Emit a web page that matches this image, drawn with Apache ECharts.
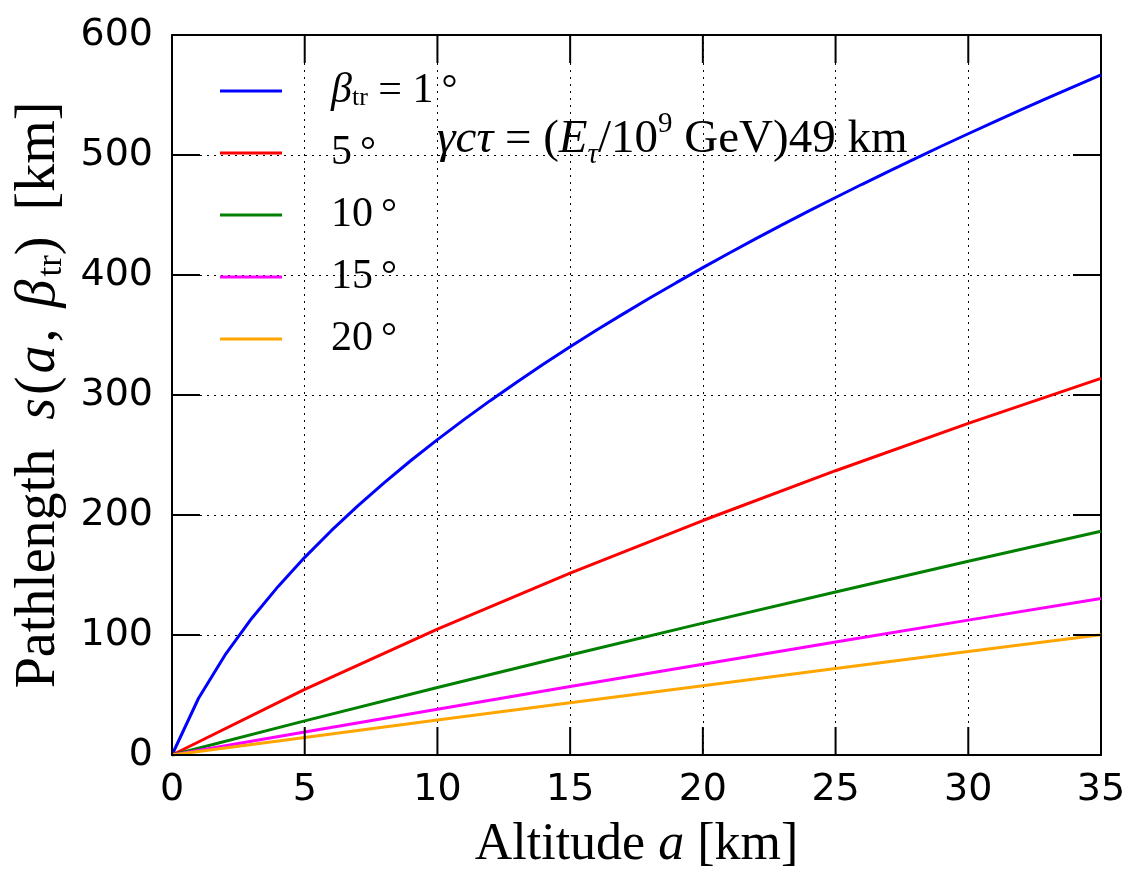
<!DOCTYPE html>
<html>
<head>
<meta charset="utf-8">
<script src="https://cdn.jsdelivr.net/npm/echarts@6/dist/echarts.min.js"></script>
<style>
  html, body { margin: 0; padding: 0; background: #fff; }
  #chart { width: 1144px; height: 888px; }
</style>
</head>
<body>
<div id="chart"></div>
<script>
// altitude grid (km)
const altitudeFine = [0, 1, 2, 3, 4, 5, 6, 7, 8, 9, 10, 11, 12, 13, 14, 15, 16, 17, 18, 19, 20,
  21, 22, 23, 24, 25, 26, 27, 28, 29, 30, 31, 32, 33, 34, 35];
const altitudeCoarse = [0, 5, 10, 15, 20, 25, 30, 35];

// pathlength (km) per beta_tr
const path1 = [0, 47.3, 83.4, 113.8, 140.5, 164.7, 186.9, 207.6, 227.0, 245.4, 262.8, 279.5, 295.5,
  310.9, 325.8, 340.2, 354.1, 367.6, 380.8, 393.6, 406.1, 418.3, 430.3, 442.0, 453.4, 464.6, 475.6,
  486.4, 497.0, 507.5, 517.7, 527.8, 537.8, 547.6, 557.2, 566.7];
const path5 = [0, 54.7, 104.9, 151.6, 195.4, 236.9, 276.3, 313.9];
const path10 = [0, 28.4, 56.2, 83.3, 109.9, 135.9, 161.4, 186.4];
const path15 = [0, 19.2, 38.2, 57.0, 75.7, 94.1, 112.4, 130.4];
const path20 = [0, 14.6, 29.1, 43.5, 57.8, 72.1, 86.2, 100.3];

// tick values
const xTicks = [0, 5, 10, 15, 20, 25, 30, 35];
const yTicks = [0, 100, 200, 300, 400, 500, 600];

const SERIF = '"Liberation Serif", "DejaVu Serif", serif';
const SANS = '"DejaVu Sans", sans-serif';
const TICK_LEN = 28;

const pairs = (xs, ys) => xs.map((x, i) => [x, ys[i]]);

// legend labels, rich text
const legendLabels = {
  b1: '{i|β}{sub|tr}{r| = 1}{deg|°}',
  b5: '{r|5}{deg|°}',
  b10: '{r|10}{deg|°}',
  b15: '{r|15}{deg|°}',
  b20: '{r|20}{deg|°}'
};

// rich styles for the math-ish text
const richMath = (size, lh) => ({
  r: { fontFamily: SERIF, fontSize: size, color: '#000', lineHeight: lh },
  i: { fontFamily: SERIF, fontStyle: 'italic', fontSize: size, color: '#000', lineHeight: lh },
  ip: { fontFamily: SERIF, fontStyle: 'italic', fontSize: size, color: '#000', lineHeight: lh, padding: [0, 3, 0, 3] },
  sub: { fontFamily: SERIF, fontSize: Math.round(size * 0.62), color: '#000', lineHeight: 4, verticalAlign: 'bottom' },
  isub: { fontFamily: SERIF, fontStyle: 'italic', fontSize: Math.round(size * 0.62), color: '#000', lineHeight: 4, verticalAlign: 'bottom' },
  sup: { fontFamily: SERIF, fontSize: Math.round(size * 0.62), color: '#000', lineHeight: lh + 10, verticalAlign: 'top' },
  deg: { fontFamily: SERIF, fontSize: Math.round(size * 0.95), color: '#000', lineHeight: lh, padding: [0, 0, 0, 8] },
  gap: { width: 44, lineHeight: lh },
  sp: { width: 26, lineHeight: lh },
  sp2: { width: 18, lineHeight: lh }
});

const chart = echarts.init(document.getElementById('chart'));

const lineSeries = (name, xs, ys, color) => ({
  name: name,
  type: 'line',
  data: pairs(xs, ys),
  showSymbol: false,
  symbol: 'none',
  lineStyle: { color: color, width: 3 },
  itemStyle: { color: color },
  z: 3
});

// inward ticks on all four sides, placed through the axes' own scales
// rows: [x, y, kind]  kind 0 = x tick, 1 = y tick
const tickRows = xTicks.map(v => [v, yTicks[0], 0]).concat(yTicks.map(v => [xTicks[0], v, 1]));
const tickLine = (x1, y1, x2, y2) => ({
  type: 'line',
  shape: { x1: x1, y1: y1, x2: x2, y2: y2 },
  style: { stroke: '#000', lineWidth: 2 }
});
const tickSeries = {
  type: 'custom',
  data: tickRows,
  clip: false,
  silent: true,
  z: 5,
  renderItem: (params, api) => {
    if (api.value(2) === 0) {
      const b = api.coord([api.value(0), yTicks[0]]);
      const t = api.coord([api.value(0), yTicks[yTicks.length - 1]]);
      return {
        type: 'group',
        children: [
          tickLine(b[0], b[1], b[0], b[1] - TICK_LEN),
          tickLine(t[0], t[1], t[0], t[1] + TICK_LEN)
        ]
      };
    }
    const l = api.coord([xTicks[0], api.value(1)]);
    const r = api.coord([xTicks[xTicks.length - 1], api.value(1)]);
    return {
      type: 'group',
      children: [
        tickLine(l[0], l[1], l[0] + TICK_LEN, l[1]),
        tickLine(r[0], r[1], r[0] - TICK_LEN, r[1])
      ]
    };
  }
};

const mkLine = () => ({ show: true, onZero: false, lineStyle: { color: '#000', width: 2 } });
const mkGrid = () => ({ show: true, lineStyle: { color: '#000', type: [2, 5], width: 1 } });

const option = {
  backgroundColor: '#fff',
  animation: false,
  grid: { left: 172, right: 43, top: 35, bottom: 133, containLabel: false },
  legend: {
    orient: 'vertical',
    left: 220,
    top: 70,
    padding: 0,
    itemWidth: 62,
    itemHeight: 40,
    itemGap: 20,
    selectedMode: false,
    icon: 'path://M0,18.5 L62,18.5 L62,21.5 L0,21.5 Z',
    formatter: (name) => '{gap|}' + legendLabels[name],
    textStyle: { rich: richMath(42, 40) },
    data: ['b1', 'b5', 'b10', 'b15', 'b20']
  },
  xAxis: [{
    type: 'value', min: 0, max: 35, interval: 5, position: 'bottom',
    name: '{r|Altitude }{i|a}{r| [km]}',
    nameLocation: 'middle', nameGap: 62,
    nameTextStyle: { rich: richMath(52, 56) },
    axisLine: mkLine(),
    axisTick: { show: false },
    axisLabel: { color: '#000', fontFamily: SANS, fontSize: 38, margin: 16 },
    splitLine: mkGrid()
  }, {
    type: 'value', min: 0, max: 35, interval: 5, position: 'top',
    axisLine: mkLine(),
    axisTick: { show: false },
    axisLabel: { show: false },
    splitLine: { show: false }
  }],
  yAxis: [{
    type: 'value', min: 0, max: 600, interval: 100, position: 'left',
    name: '{r|Pathlength}{sp|}{ip|s}{r|(}{ip|a}{r|,}{sp2|}{ip|β}{sub|tr}{r|)}{sp|}{r|[km]}',
    nameLocation: 'middle', nameGap: 98, nameRotate: 90,
    nameTextStyle: { rich: richMath(56, 60) },
    axisLine: mkLine(),
    axisTick: { show: false },
    axisLabel: { color: '#000', fontFamily: SANS, fontSize: 38, margin: 19 },
    splitLine: mkGrid()
  }, {
    type: 'value', min: 0, max: 600, interval: 100, position: 'right',
    axisLine: mkLine(),
    axisTick: { show: false },
    axisLabel: { show: false },
    splitLine: { show: false }
  }],
  graphic: [{
    type: 'text',
    left: 437,
    top: 110,
    z: 100,
    style: {
      text: '{i|γcτ}{r| = (}{i|E}{isub|τ}{r|/10}{sup|9}{r| GeV)49 km}',
      rich: richMath(47, 50)
    }
  }],
  series: [
    lineSeries('b1', altitudeFine, path1, '#0000ff'),
    lineSeries('b5', altitudeCoarse, path5, '#ff0000'),
    lineSeries('b10', altitudeCoarse, path10, '#008000'),
    lineSeries('b15', altitudeCoarse, path15, '#ff00ff'),
    lineSeries('b20', altitudeCoarse, path20, '#ffa500'),
    tickSeries
  ]
};

chart.setOption(option);
</script>
</body>
</html>
